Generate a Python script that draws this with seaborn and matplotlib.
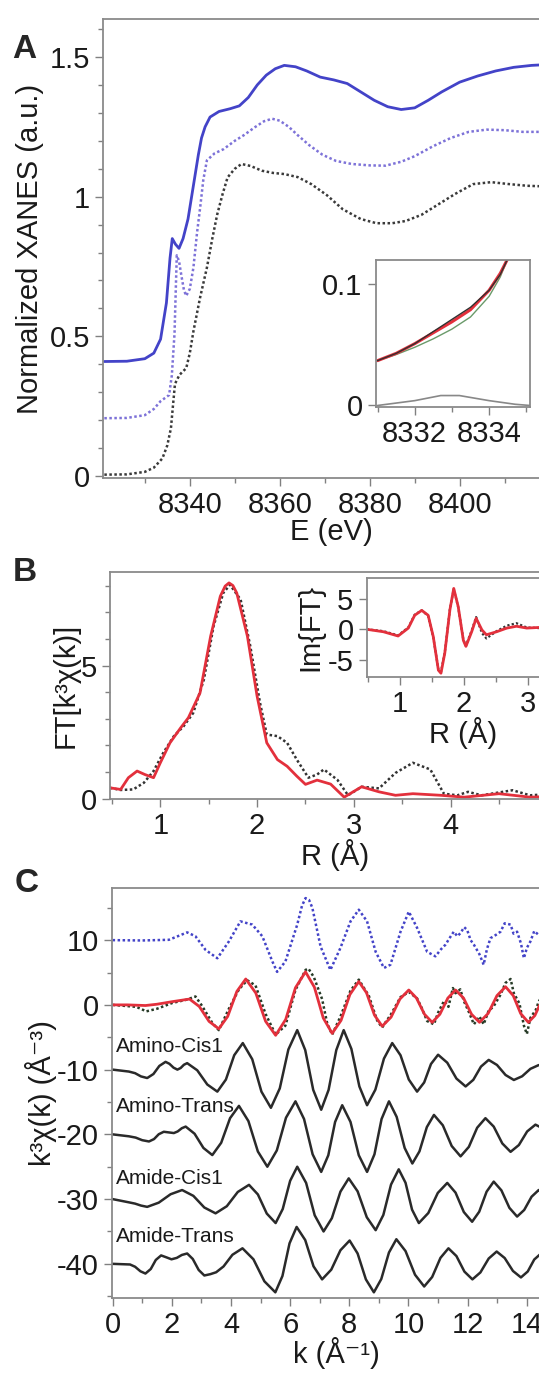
import matplotlib
matplotlib.use("Agg")
import matplotlib.pyplot as plt
import seaborn as sns
from matplotlib.ticker import FixedLocator, MultipleLocator

# ---- panel A : XANES ----
a_e_top = [8321, 8326, 8330, 8332, 8333.5, 8334.8, 8335.6, 8336.1, 8336.8, 8337.6,
           8338.5, 8339.6, 8340.8, 8341.9, 8342.6, 8343.4, 8344.5, 8346.5, 8349, 8351,
           8353, 8355, 8357, 8359, 8361, 8363.5, 8366, 8369, 8372, 8375,
           8378, 8381, 8384, 8387, 8390, 8393, 8396, 8400, 8404, 8408,
           8412, 8416, 8422]
a_top = [0.410, 0.411, 0.420, 0.440, 0.490, 0.62, 0.78, 0.85, 0.83, 0.815,
         0.85, 0.92, 1.04, 1.15, 1.21, 1.25, 1.285, 1.305, 1.315, 1.325,
         1.355, 1.40, 1.435, 1.458, 1.470, 1.465, 1.45, 1.428, 1.418, 1.405,
         1.375, 1.345, 1.322, 1.312, 1.318, 1.345, 1.375, 1.41, 1.432, 1.45,
         1.463, 1.47, 1.475]

a_e_mid = [8321, 8326, 8330, 8332, 8333.5, 8335.4, 8336.0, 8336.6, 8337.1, 8337.6,
           8338.1, 8338.7, 8339.2, 8340.0, 8340.8, 8341.6, 8342.3, 8343.0, 8343.8, 8345.5,
           8347.5, 8350, 8352, 8354.5, 8356.5, 8358.3, 8360, 8362, 8364, 8366.5,
           8369.5, 8372.5, 8376, 8380, 8383.5, 8387, 8390, 8394, 8398, 8402,
           8406, 8410, 8414, 8418, 8422]
a_mid = [0.207, 0.208, 0.218, 0.24, 0.268, 0.29, 0.36, 0.51, 0.79, 0.77,
         0.72, 0.665, 0.645, 0.67, 0.746, 0.87, 0.961, 1.06, 1.13, 1.155,
         1.17, 1.20, 1.22, 1.249, 1.27, 1.279, 1.272, 1.25, 1.22, 1.185,
         1.15, 1.128, 1.117, 1.112, 1.111, 1.125, 1.145, 1.18, 1.21, 1.232,
         1.24, 1.238, 1.232, 1.232, 1.232]

a_e_bot = [8321, 8326, 8330, 8332, 8333.9, 8335.0, 8335.8, 8336.3, 8336.7, 8337.7,
           8338.5, 8339.2, 8340.0, 8340.8, 8342.3, 8343.8, 8345.0, 8346.1, 8347.3, 8348.4,
           8350, 8351.5, 8353.5, 8356, 8358.5, 8361, 8364, 8367, 8370.5, 8374,
           8378, 8381.5, 8385, 8388, 8391.5, 8395, 8399, 8403, 8407, 8411, 8415, 8422]
a_bot = [0.005, 0.006, 0.015, 0.03, 0.063, 0.11, 0.171, 0.26, 0.33, 0.362,
         0.375, 0.386, 0.44, 0.518, 0.64, 0.746, 0.85, 0.937, 1.01, 1.069,
         1.10, 1.117, 1.11, 1.093, 1.085, 1.081, 1.07, 1.045, 1.005, 0.955,
         0.92, 0.905, 0.905, 0.913, 0.935, 0.97, 1.01, 1.045, 1.052, 1.045, 1.039, 1.035]

# inset of A (pre-edge)
ai_e = [8331.0, 8331.5, 8332.0, 8332.5, 8333.0, 8333.5, 8334.0, 8334.3, 8334.5]
ai_red = [0.037, 0.043, 0.051, 0.060, 0.069, 0.079, 0.095, 0.109, 0.121]
ai_black = [0.037, 0.043, 0.051, 0.061, 0.071, 0.081, 0.095, 0.108, 0.121]
ai_green = [0.037, 0.042, 0.048, 0.055, 0.063, 0.073, 0.090, 0.106, 0.121]
ai_e_peak = [8331.0, 8332.0, 8332.7, 8333.2, 8334.0, 8334.7, 8335.1]
ai_peak = [0.0, 0.004, 0.0082, 0.0082, 0.004, 0.001, 0.0]

# ---- panel B : FT magnitude ----
b_r_fit = [0.48, 0.59, 0.67, 0.76, 0.84, 0.93, 1.00, 1.10, 1.21, 1.29,
           1.41, 1.52, 1.62, 1.67, 1.71, 1.75, 1.79, 1.90, 2.00, 2.10,
           2.21, 2.31, 2.41, 2.50, 2.62, 2.76, 2.90, 3.08, 3.26, 3.43,
           3.61, 3.90, 4.14, 4.50, 4.82, 5.13]
b_fit = [0.41, 0.35, 0.79, 1.04, 0.91, 0.79, 1.35, 2.10, 2.66, 3.04,
         3.97, 6.10, 7.60, 7.98, 8.10, 8.00, 7.72, 6.10, 3.85, 2.10,
         1.47, 1.22, 0.85, 0.54, 0.70, 0.55, 0.06, 0.45, 0.26, 0.13,
         0.19, 0.13, 0.06, 0.19, 0.06, 0.10]
b_r_dat = [0.48, 0.59, 0.72, 0.83, 0.93, 1.03, 1.14, 1.24, 1.34, 1.45,
           1.55, 1.65, 1.72, 1.83, 1.93, 2.03, 2.10, 2.21, 2.31, 2.41,
           2.53, 2.62, 2.69, 2.83, 2.94, 3.08, 3.26, 3.43, 3.61, 3.79,
           3.93, 4.07, 4.18, 4.32, 4.64, 4.82, 5.13]
b_dat = [0.41, 0.33, 0.35, 0.60, 1.04, 1.72, 2.35, 2.72, 3.22, 4.47,
         6.47, 7.72, 8.03, 7.47, 5.72, 3.60, 2.41, 2.35, 2.10, 1.47,
         0.79, 0.91, 1.10, 0.71, 0.13, 0.45, 0.39, 0.97, 1.35, 1.10,
         0.19, 0.13, 0.26, 0.13, 0.32, 0.13, 0.20]

# inset of B (imaginary part)
bi_r = [0.48, 0.74, 0.97, 1.13, 1.23, 1.34, 1.44, 1.52, 1.60, 1.64,
        1.70, 1.78, 1.84, 1.91, 1.99, 2.03, 2.12, 2.19, 2.28, 2.35,
        2.51, 2.67, 2.82, 2.98, 3.17, 3.50]
bi_fit = [0.0, -0.4, -1.1, 0.2, 2.3, 3.1, 2.3, -1.2, -6.7, -7.2,
          -3.9, 3.2, 6.7, 3.7, -1.8, -2.8, -0.4, 1.8, -0.1, -0.9,
          -0.4, 0.2, 0.5, 0.2, 0.3, 0.1]
bi_dat = [0.0, -0.3, -1.0, 0.3, 2.4, 3.1, 2.2, -1.3, -6.6, -7.0,
          -3.8, 3.3, 6.6, 3.6, -1.7, -2.7, -0.2, 2.0, -0.6, -1.5,
          -0.3, 0.6, 1.0, 0.3, 0.2, 0.3]

# ---- panel C : k-space ----
c_k_blue = [0.0, 1.0, 1.90, 2.20, 2.52, 2.80, 3.14, 3.54, 3.93, 4.32,
            4.72, 5.06, 5.40, 5.56, 5.84, 6.24, 6.40, 6.52, 6.64, 6.75,
            7.03, 7.36, 7.70, 8.04, 8.32, 8.60, 8.89, 9.17, 9.39, 9.73,
            10.01, 10.29, 10.63, 10.91, 11.10, 11.25, 11.40, 11.53, 11.65, 11.76,
            11.88, 11.98, 12.10, 12.21, 12.40, 12.54, 12.65, 12.77, 12.95, 13.11,
            13.25, 13.45, 13.55, 13.67, 13.80, 13.90, 14.00, 14.12, 14.25, 14.40,
            14.60, 15.10]
c_blue = [10.0, 9.95, 10.05, 10.6, 11.2, 10.6, 8.5, 7.2, 9.8, 12.9,
          12.4, 10.6, 6.7, 5.1, 6.7, 12.4, 15.3, 16.5, 16.2, 15.0,
          9.0, 5.4, 8.8, 12.9, 14.7, 12.9, 8.2, 5.7, 6.2, 11.3,
          14.4, 11.9, 8.2, 7.5, 8.6, 9.3, 10.4, 11.3, 10.6, 11.1,
          12.0, 11.6, 10.0, 9.3, 7.8, 6.2, 8.6, 10.3, 10.8, 11.3,
          12.6, 12.4, 11.0, 11.3, 9.5, 7.2, 8.8, 9.8, 11.4, 10.8,
          10.2, 10.5]

c_k_fit = [0.0, 0.5, 1.11, 1.5, 2.02, 2.60, 2.93, 3.26, 3.59, 3.89,
           4.20, 4.50, 4.84, 5.17, 5.51, 5.85, 6.18, 6.52, 6.82, 7.12,
           7.42, 7.72, 8.02, 8.32, 8.58, 8.85, 9.11, 9.41, 9.71, 10.01,
           10.27, 10.54, 10.80, 11.06, 11.33, 11.59, 11.86, 12.13, 12.40, 12.69,
           12.99, 13.28, 13.54, 13.79, 14.05, 14.27, 14.48, 14.70, 15.10]
c_fit = [0.0, 0.0, -0.1, 0.1, 0.5, 0.9, -0.25, -2.55, -3.7, -1.78,
         2.08, 4.0, 1.83, -2.53, -4.7, -2.25, 2.65, 5.1, 2.73, -2.03,
         -4.4, -2.4, 1.6, 3.6, 1.88, -1.58, -3.3, -1.9, 0.9, 2.3,
         1.05, -1.45, -2.7, -1.45, 1.05, 2.3, 1.05, -1.45, -2.7, -1.33,
         1.43, 2.8, 1.43, -1.33, -2.7, -1.65, 0.45, 1.5, 0.5]

c_k_dat = [0.0, 0.8, 1.14, 1.5, 2.02, 2.5, 2.80, 3.03, 3.37, 3.59,
           3.93, 4.27, 4.55, 4.83, 5.17, 5.51, 5.84, 6.18, 6.52, 6.62,
           6.80, 7.08, 7.25, 7.42, 7.70, 8.04, 8.32, 8.66, 8.94, 9.11,
           9.25, 9.39, 9.55, 9.73, 10.01, 10.29, 10.45, 10.63, 10.86, 11.0,
           11.20, 11.35, 11.5, 11.59, 11.75, 11.87, 12.05, 12.21, 12.4, 12.54,
           12.7, 12.88, 13.1, 13.28, 13.45, 13.56, 13.75, 13.90, 14.0, 14.12,
           14.3, 14.40, 14.6, 15.1]
c_dat = [0.0, -0.3, -1.0, -0.6, 0.3, 0.8, 1.3, -0.2, -2.8, -3.9,
         -0.6, 2.4, 3.8, 3.0, -1.4, -4.6, -3.2, 2.3, 5.4, 5.6,
         4.3, 0.9, -2.8, -4.6, -1.8, 2.2, 3.9, 1.4, -2.4, -3.5,
         -2.5, -1.6, -0.3, 1.2, 2.0, 1.0, -0.5, -2.5, -3.0, -1.2,
         0.6, -0.3, 2.6, 1.8, 2.4, 0.6, -1.2, -3.0, -1.8, -3.0,
         -1.0, -0.2, 1.5, 3.4, 4.0, 1.8, 0.2, -3.2, -4.5, -2.0,
         -0.8, 0.5, 2.0, 0.8]

k_amino_cis = [0.00, 0.55, 0.76, 0.96, 1.17, 1.38, 1.58, 1.79, 1.92, 2.06,
               2.19, 2.30, 2.41, 2.52, 2.86, 3.20, 3.54, 3.83, 4.11, 4.40,
               4.72, 5.03, 5.35, 5.65, 5.94, 6.24, 6.51, 6.78, 7.05, 7.30,
               7.56, 7.81, 8.07, 8.34, 8.60, 8.88, 9.17, 9.45, 9.73, 10.01,
               10.29, 10.53, 10.76, 11.00, 11.31, 11.62, 11.93, 12.19, 12.45, 12.71,
               12.99, 13.28, 13.56, 13.84, 14.12, 14.40, 14.63, 14.87, 15.10]
amino_cis = [-10.0, -10.3, -10.55, -11.05, -11.3, -10.68, -9.43, -8.8, -9.1, -9.7,
             -10.0, -9.75, -9.25, -9.0, -10.1, -12.3, -13.4, -11.53, -7.78, -5.9,
             -8.4, -13.4, -15.9, -12.9, -6.9, -3.9, -6.98, -13.13, -16.2, -13.13,
             -6.98, -3.9, -6.8, -12.6, -15.5, -13.1, -8.3, -5.9, -7.78, -11.53,
             -13.4, -11.98, -9.13, -7.7, -8.93, -11.38, -12.6, -11.58, -9.53, -8.5,
             -9.28, -10.83, -11.6, -11.03, -9.88, -9.3, -9.6, -10.2, -10.5]

k_amino_trans = [0.00, 0.55, 0.78, 1.00, 1.23, 1.40, 1.56, 1.73, 1.90, 2.07,
                 2.20, 2.34, 2.47, 2.77, 3.07, 3.37, 3.67, 3.97, 4.27, 4.59,
                 4.91, 5.23, 5.55, 5.86, 6.18, 6.47, 6.76, 7.05, 7.29, 7.52,
                 7.76, 8.04, 8.32, 8.60, 8.85, 9.09, 9.34, 9.60, 9.87, 10.13,
                 10.37, 10.62, 10.86, 11.16, 11.46, 11.76, 12.04, 12.32, 12.60, 12.88,
                 13.17, 13.45, 13.73, 14.01, 14.29, 14.56, 14.83, 15.10]
amino_trans = [-20.0, -20.3, -20.5, -20.9, -21.1, -20.73, -19.98, -19.6, -19.7, -19.8,
               -19.55, -19.05, -18.8, -19.9, -22.1, -23.2, -21.3, -17.5, -15.6, -17.95,
               -22.65, -25.0, -22.48, -17.43, -14.9, -17.63, -23.08, -25.8, -23.23, -18.08,
               -15.5, -18.08, -23.23, -25.8, -23.08, -17.63, -14.9, -17.3, -22.1, -24.5,
               -22.63, -18.88, -17.0, -18.6, -21.8, -23.4, -21.93, -18.98, -17.5, -18.8,
               -21.4, -22.7, -21.65, -19.55, -18.5, -19.13, -20.38, -21.0]

k_amide_cis = [0.00, 0.55, 0.76, 0.96, 1.17, 1.56, 1.96, 2.35, 2.73, 3.10,
               3.48, 3.86, 4.23, 4.61, 4.91, 5.21, 5.51, 5.75, 6.00, 6.24,
               6.54, 6.83, 7.13, 7.41, 7.70, 7.98, 8.28, 8.59, 8.89, 9.15,
               9.41, 9.67, 9.90, 10.12, 10.35, 10.67, 10.99, 11.31, 11.59, 11.87,
               12.15, 12.39, 12.64, 12.88, 13.14, 13.41, 13.67, 13.91, 14.16, 14.40,
               14.63, 14.87, 15.10]
amide_cis = [-30.0, -30.5, -30.7, -31.0, -31.2, -30.55, -29.25, -28.6, -29.5, -31.3,
             -32.2, -31.1, -28.9, -27.8, -29.28, -32.23, -33.7, -31.53, -27.18, -25.0,
             -27.5, -32.5, -35.0, -32.95, -28.85, -26.8, -28.8, -32.8, -34.8, -32.45,
             -27.75, -25.4, -27.48, -31.63, -33.7, -32.15, -29.05, -27.5, -29.0, -32.0,
             -33.5, -31.95, -28.85, -27.3, -28.65, -31.35, -32.7, -31.68, -29.63, -28.6,
             -28.95, -29.65, -30.0]

k_amide_trans = [0.00, 0.59, 0.76, 0.94, 1.11, 1.29, 1.46, 1.64, 1.82, 1.99,
                 2.17, 2.34, 2.52, 2.71, 2.91, 3.10, 3.30, 3.50, 3.75, 4.05,
                 4.39, 4.76, 5.13, 5.50, 5.74, 5.98, 6.22, 6.51, 6.79, 7.08,
                 7.39, 7.70, 8.01, 8.28, 8.56, 8.83, 9.08, 9.34, 9.59, 9.90,
                 10.22, 10.53, 10.80, 11.08, 11.35, 11.62, 11.89, 12.16, 12.43, 12.71,
                 12.98, 13.25, 13.53, 13.80, 14.03, 14.25, 14.48, 14.69, 14.89, 15.10]
amide_trans = [-40.0, -40.1, -40.45, -41.15, -41.5, -40.8, -39.4, -38.7, -39.0, -39.3,
               -39.08, -38.63, -38.4, -39.25, -40.95, -41.8, -41.6, -41.3, -40.4, -38.6,
               -37.6, -39.3, -42.7, -44.4, -41.88, -36.83, -34.3, -36.33, -40.38, -42.4,
               -40.9, -37.9, -36.4, -38.4, -42.4, -44.4, -42.35, -38.25, -36.2, -38.03,
               -41.68, -43.5, -42.03, -39.08, -37.6, -38.8, -41.2, -42.4, -41.33, -39.18,
               -38.1, -39.1, -41.1, -42.1, -41.18, -39.33, -38.4, -38.8, -39.6, -40.0]

model_names = ["Amino-Cis1", "Amino-Trans", "Amide-Cis1", "Amide-Trans"]
model_label_y = [-6.4, -15.7, -26.8, -35.8]

# ---- style ----
sns.set_theme(style="ticks")
plt.rcParams["font.family"] = ["Liberation Sans", "DejaVu Sans"]
plt.rcParams["font.size"] = 21
plt.rcParams["axes.labelsize"] = 21
plt.rcParams["axes.unicode_minus"] = False
plt.rcParams["axes.edgecolor"] = "#8a8a8a"
plt.rcParams["axes.linewidth"] = 1.3
plt.rcParams["lines.solid_joinstyle"] = "round"
plt.rcParams["lines.solid_capstyle"] = "round"
for ax_name in ("xtick", "ytick"):
    plt.rcParams[f"{ax_name}.color"] = "#808080"
    plt.rcParams[f"{ax_name}.labelcolor"] = "#1a1a1a"
    plt.rcParams[f"{ax_name}.labelsize"] = 21
    plt.rcParams[f"{ax_name}.direction"] = "out"
    plt.rcParams[f"{ax_name}.major.size"] = 6
    plt.rcParams[f"{ax_name}.minor.size"] = 3.5
    plt.rcParams[f"{ax_name}.major.width"] = 1.0
    plt.rcParams[f"{ax_name}.minor.width"] = 1.0
plt.rcParams["axes.labelcolor"] = "#1a1a1a"

W, H = 539, 1376
fig = plt.figure(figsize=(W / 100, H / 100), dpi=100)


def box(left, top, right, bottom):
    return [left / W, 1 - bottom / H, (right - left) / W, (bottom - top) / H]


def line(ax, x, y, **kw):
    sns.lineplot(x=x, y=y, ax=ax, estimator=None, sort=False, **kw)


DOT = (0, (1, 1))
BLUE = "#4343c8"
PURPLE = "#7d72d8"
RED = "#e3303c"

# panel A
axA = fig.add_axes(box(103, 19, 560, 478))
line(axA, a_e_top, a_top, color=BLUE, linewidth=2.0)
line(axA, a_e_mid, a_mid, color=PURPLE, linewidth=1.8, linestyle=DOT)
line(axA, a_e_bot, a_bot, color="#3a3a3a", linewidth=1.8, linestyle=DOT)
axA.set_xlim(8320.7, 8422.3)
axA.set_ylim(-0.007, 1.636)
axA.set_yticks([0, 0.5, 1, 1.5])
axA.set_yticklabels(["0", "0.5", "1", "1.5"])
axA.yaxis.set_minor_locator(MultipleLocator(0.1))
axA.set_xticks([8340, 8360, 8380, 8400])
axA.xaxis.set_minor_locator(MultipleLocator(10))
axA.set_xlabel("E (eV)", labelpad=-1)
axA.set_ylabel("Normalized XANES (a.u.)", labelpad=4)

axAi = fig.add_axes(box(375.7, 260, 530, 406.7))
line(axAi, ai_e, ai_green, color="#6a9a6a", linewidth=1.0)
line(axAi, ai_e, ai_red, color=RED, linewidth=2.2)
line(axAi, ai_e, ai_black, color="#303030", linewidth=1.0)
line(axAi, ai_e_peak, ai_peak, color="#888888", linewidth=1.2)
axAi.set_xlim(8330.95, 8335.1)
axAi.set_ylim(-0.001, 0.12)
axAi.set_yticks([0, 0.1])
axAi.set_yticklabels(["0", "0.1"])
axAi.set_xticks([8332, 8334])
axAi.xaxis.set_minor_locator(FixedLocator([8331, 8333, 8335]))

# panel B
axB = fig.add_axes(box(110, 571.7, 560, 799.3))
line(axB, b_r_dat, b_dat, color="#333333", linewidth=1.8, linestyle=DOT)
line(axB, b_r_fit, b_fit, color=RED, linewidth=2.0)
axB.set_xlim(0.48, 5.13)
axB.set_ylim(-0.02, 8.52)
axB.set_yticks([0, 5])
axB.yaxis.set_minor_locator(MultipleLocator(1))
axB.set_xticks([1, 2, 3, 4])
axB.xaxis.set_minor_locator(MultipleLocator(0.5))
axB.set_xlabel("R (Å)", labelpad=-1)
axB.set_ylabel("FT[k³χ(k)]", labelpad=1)

axBi = fig.add_axes(box(366.7, 578.3, 560, 676.7))
line(axBi, bi_r, bi_dat, color="#333333", linewidth=1.6, linestyle=DOT)
line(axBi, bi_r, bi_fit, color=RED, linewidth=2.0)
axBi.set_xlim(0.48, 3.5)
axBi.set_ylim(-7.77, 8.36)
axBi.set_yticks([-5, 0, 5])
axBi.set_xticks([1, 2, 3])
axBi.xaxis.set_minor_locator(MultipleLocator(0.5))
axBi.set_xlabel("R (Å)", labelpad=-1)
axBi.set_ylabel("Im{FT}", labelpad=2)

# panel C
axC = fig.add_axes(box(112, 887.7, 560, 1297.5))
line(axC, c_k_blue, c_blue, color=BLUE, linewidth=1.8, linestyle=DOT)
line(axC, c_k_dat, c_dat, color="#263a26", linewidth=1.8, linestyle=DOT)
line(axC, c_k_fit, c_fit, color=RED, linewidth=2.0)
for kk, vv in [(k_amino_cis, amino_cis), (k_amino_trans, amino_trans),
               (k_amide_cis, amide_cis), (k_amide_trans, amide_trans)]:
    line(axC, kk, vv, color="#2a2a2a", linewidth=1.8)
for name, yy in zip(model_names, model_label_y):
    axC.text(0.1, yy, name, fontsize=15, ha="left", va="center", color="#1a1a1a")
axC.set_xlim(-0.02, 15.12)
axC.set_ylim(-45.2, 18.1)
axC.set_yticks([-40, -30, -20, -10, 0, 10])
axC.yaxis.set_minor_locator(MultipleLocator(5))
axC.set_xticks(list(range(0, 15, 2)))
axC.xaxis.set_minor_locator(MultipleLocator(1))
axC.set_xlabel("k (Å⁻¹)", labelpad=-1)
axC.set_ylabel("k³χ(k) (Å⁻³)", labelpad=0)

for a in (axA, axAi, axB, axBi, axC):
    for s in a.spines.values():
        s.set_visible(True)

fig.text(24 / W, 1 - 50 / H, "A", fontsize=24, fontweight="bold", ha="center", va="center")
fig.text(25 / W, 1 - 572 / H, "B", fontsize=24, fontweight="bold", ha="center", va="center")
fig.text(27 / W, 1 - 884 / H, "C", fontsize=24, fontweight="bold", ha="center", va="center")

fig.savefig("out.png", dpi=100)
